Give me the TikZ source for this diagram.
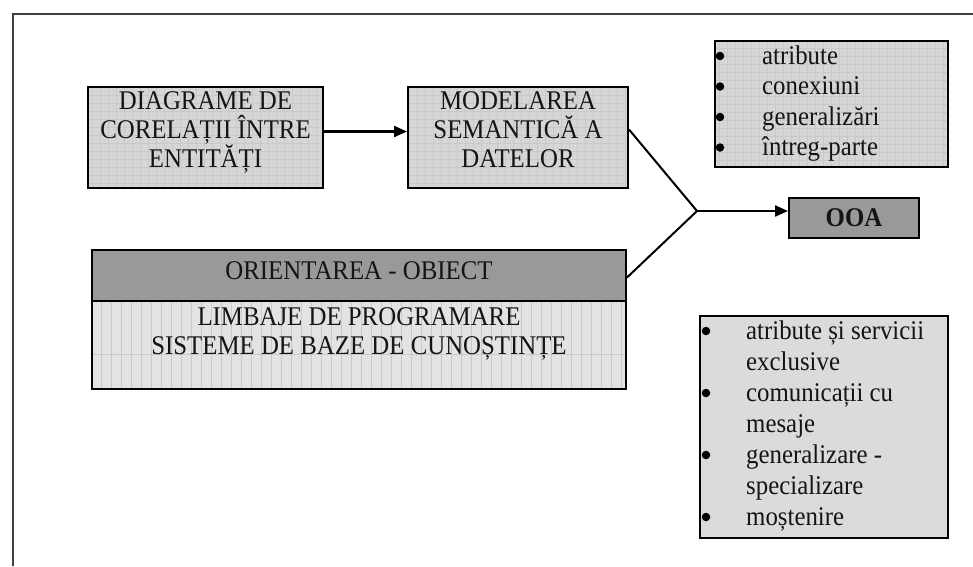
\documentclass[tikz,border=0pt]{standalone}
\usepackage{fontspec}
\setmainfont{Liberation Serif}[FakeStretch=0.92]
\usetikzlibrary{arrows.meta}
\begin{document}
\begin{tikzpicture}[x=1pt,y=-1pt,
  txt/.style={font=\fontsize{27}{29}\selectfont, text=black!92},
  frameline/.style={draw=black!75, line width=2.5pt},
  boxline/.style={draw=black, line width=2pt},
  gridbox/.style={boxline, fill=black!16, anchor=north west, inner sep=0pt,
    align=center, txt,
    path picture={\draw[black!21, line width=0.5pt, step=8pt]
      (path picture bounding box.south west) grid (path picture bounding box.north east);}},
  stripebox/.style={boxline, fill=black!11, anchor=north west, inner sep=0pt,
    align=center, txt,
    path picture={\draw[black!21, line width=1pt, xstep=10pt, ystep=1000pt]
      (path picture bounding box.south west) grid (path picture bounding box.north east);}},
  darkbox/.style={boxline, fill=black!40, anchor=north west, inner sep=0pt, align=center, txt},
  plainbox/.style={boxline, fill=black!14, anchor=north west, inner sep=0pt},
  conn/.style={draw=black, line width=2pt},
  arrow/.style={conn, line width=2.2pt, -{Triangle[length=13pt,width=11pt]}},
  item/.style={txt, anchor=base west, inner sep=0pt},
  dot/.style={circle, fill=black, inner sep=0pt, minimum size=8.5pt},
]
\useasboundingbox (0,0) rectangle (973,566);

% outer frame, open towards the right and bottom edges
\coordinate (fb) at (13,566);
\coordinate (ftl) at (13,14);
\coordinate (fr) at (973,14);
\draw[frameline] (fb) -- (ftl) -- (fr);

% upper row
\node[gridbox, minimum width=235, minimum height=101, text depth=16pt] (diag) at (87,86)
  {DIAGRAME DE\\CORELAȚII ÎNTRE\\ENTITĂȚI};
\node[gridbox, minimum width=220, minimum height=101, text depth=16pt] (model) at (407,86)
  {MODELAREA\\SEMANTICĂ A\\DATELOR};

% object orientation block
\node[darkbox, minimum width=534, minimum height=51, text depth=9pt] (orient) at (91,249)
  {ORIENTAREA - OBIECT};
\node[stripebox, minimum width=534, minimum height=88, text depth=28pt] (lang) at (91,300)
  {\fontsize{27}{36}\selectfont LIMBAJE DE PROGRAMARE\\SISTEME DE BAZE DE CUNOȘTINȚE};

% result
\node[darkbox, font=\fontsize{27}{29}\selectfont\bfseries, minimum width=130, minimum height=40] (ooa) at (788,197) {OOA};

% upper list
\node[gridbox, minimum width=233, minimum height=126] (list1) at (714,40) {};
\foreach \t [count=\i from 0] in {atribute, conexiuni, generalizări, întreg-parte}{
  \node[dot] (b1\i) at (720,{56+30.5*\i}) {};
  \node[item] (l1\i) at (762,{64+30.5*\i}) {\t};
}

% lower list
\node[plainbox, minimum width=248, minimum height=222] (list2) at (699,315) {};
\foreach \t/\b [count=\i from 0] in {atribute și servicii/1, exclusive/0, comunicații cu/1,
  mesaje/0, generalizare -/1, specializare/0, moștenire/1}{
  \node[item] (l2\i) at (746,{339+31*\i}) {\t};
  \ifnum\b=1 \node[dot] (b2\i) at (706,{331+31*\i}) {}; \fi
}

% connectors
\coordinate (join) at (697,211);
\draw[arrow] ([yshift=6pt]diag.east) -- ([yshift=6pt]model.west);
\draw[conn] ([yshift=8pt]model.east) -- (join);
\draw[conn] ([yshift=-2pt]orient.east) -- (join);
\draw[arrow] (join) -- (join -| ooa.west);
\end{tikzpicture}
\end{document}
